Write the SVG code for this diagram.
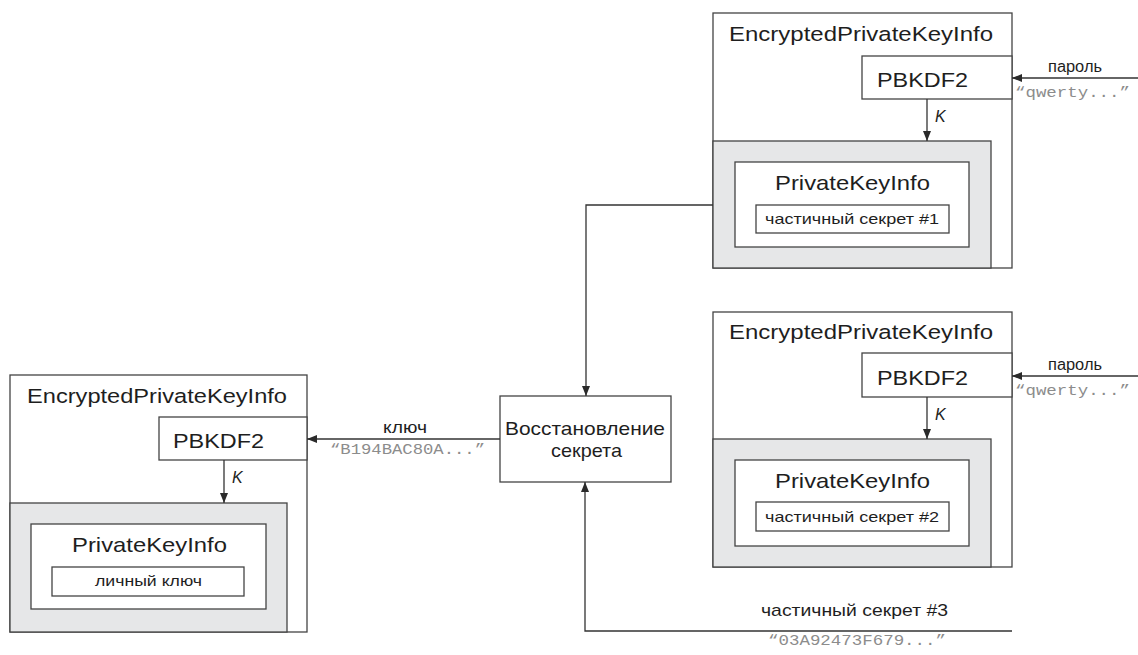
<svg xmlns="http://www.w3.org/2000/svg" width="1138" height="655" viewBox="0 0 1138 655">
<defs>
<marker id="ah" markerWidth="10" markerHeight="8" refX="10" refY="4" orient="auto" markerUnits="userSpaceOnUse">
<path d="M0,0 L10,4 L0,8 Z" fill="#2a2a2a"/>
</marker>
<style>
.box{fill:#ffffff;stroke:#444;stroke-width:1.3}
.gray{fill:#e6e7e8;stroke:#444;stroke-width:1.3}
.ln{fill:none;stroke:#333;stroke-width:1.3}
.t{font-family:"Liberation Sans",Arial,sans-serif;fill:#1e1e1e}
.big{font-size:20.5px}
.mid{font-size:21px}
.sm{font-size:15px}
.k{font-family:"Liberation Sans",Arial,sans-serif;font-size:16px;font-style:italic;fill:#222}
.mono{font-family:"Liberation Mono","Courier New",monospace;font-size:15px;fill:#8c8c8c}
</style>
</defs>

<g id="epki-top">
<rect class="box" x="713" y="13" width="299" height="255"/>
<text class="t big" x="729" y="41" textLength="264" lengthAdjust="spacingAndGlyphs">EncryptedPrivateKeyInfo</text>
<rect class="box" x="862" y="56" width="150" height="43"/>
<text class="t mid" x="877" y="87" textLength="91" lengthAdjust="spacingAndGlyphs">PBKDF2</text>
<rect class="gray" x="713" y="141" width="278" height="127"/>
<rect class="box" x="735" y="162" width="234" height="85"/>
<text class="t mid" x="775" y="190" textLength="155" lengthAdjust="spacingAndGlyphs">PrivateKeyInfo</text>
<rect class="box" x="756" y="205" width="193" height="28"/>
<text class="t sm" x="765" y="224" textLength="174" lengthAdjust="spacingAndGlyphs">частичный секрет #1</text>
<line class="ln" x1="927" y1="99" x2="927" y2="141" marker-end="url(#ah)"/>
<text class="k" x="935" y="122">K</text>
</g>

<g id="epki-mid">
<rect class="box" x="713" y="312" width="299" height="255"/>
<text class="t big" x="729" y="339" textLength="264" lengthAdjust="spacingAndGlyphs">EncryptedPrivateKeyInfo</text>
<rect class="box" x="862" y="353" width="150" height="44"/>
<text class="t mid" x="877" y="385" textLength="91" lengthAdjust="spacingAndGlyphs">PBKDF2</text>
<rect class="gray" x="713" y="439" width="278" height="128"/>
<rect class="box" x="735" y="460" width="234" height="86"/>
<text class="t mid" x="775" y="488" textLength="155" lengthAdjust="spacingAndGlyphs">PrivateKeyInfo</text>
<rect class="box" x="756" y="502" width="193" height="29"/>
<text class="t sm" x="765" y="522" textLength="174" lengthAdjust="spacingAndGlyphs">частичный секрет #2</text>
<line class="ln" x1="927" y1="397" x2="927" y2="439" marker-end="url(#ah)"/>
<text class="k" x="935" y="420">K</text>
</g>

<g id="epki-left">
<rect class="box" x="10" y="375" width="297" height="257"/>
<text class="t big" x="27" y="403" textLength="260" lengthAdjust="spacingAndGlyphs">EncryptedPrivateKeyInfo</text>
<rect class="box" x="159" y="417" width="148" height="43"/>
<text class="t mid" x="173" y="448" textLength="91" lengthAdjust="spacingAndGlyphs">PBKDF2</text>
<rect class="gray" x="10" y="503" width="277" height="129"/>
<rect class="box" x="31" y="524" width="235" height="85"/>
<text class="t mid" x="72" y="552" textLength="155" lengthAdjust="spacingAndGlyphs">PrivateKeyInfo</text>
<rect class="box" x="52" y="567" width="192" height="29"/>
<text class="t sm" x="95" y="586" textLength="107" lengthAdjust="spacingAndGlyphs">личный ключ</text>
<line class="ln" x1="224" y1="460" x2="224" y2="503" marker-end="url(#ah)"/>
<text class="k" x="232" y="483">K</text>
</g>

<g id="recovery">
<rect class="box" x="500" y="396" width="171" height="86"/>
<text class="t" font-size="19" x="505" y="435" textLength="160" lengthAdjust="spacingAndGlyphs">Восстановление</text>
<text class="t" font-size="19" x="551" y="457" textLength="71" lengthAdjust="spacingAndGlyphs">секрета</text>
</g>

<g id="connectors">
<polyline class="ln" points="713,205 586,205 586,396" marker-end="url(#ah)"/>
<polyline class="ln" points="1012,631 585,631 585,482" marker-end="url(#ah)"/>
<line class="ln" x1="500" y1="439" x2="307" y2="439" marker-end="url(#ah)"/>
<line class="ln" x1="1138" y1="78" x2="1012" y2="78" marker-end="url(#ah)"/>
<line class="ln" x1="1138" y1="376" x2="1012" y2="376" marker-end="url(#ah)"/>
<text class="t" font-size="16" x="1048" y="72" textLength="54" lengthAdjust="spacingAndGlyphs">пароль</text>
<text class="mono" x="1015" y="97" textLength="115" lengthAdjust="spacingAndGlyphs">“qwerty...”</text>
<text class="t" font-size="16" x="1048" y="370" textLength="54" lengthAdjust="spacingAndGlyphs">пароль</text>
<text class="mono" x="1015" y="395" textLength="115" lengthAdjust="spacingAndGlyphs">“qwerty...”</text>
<text class="t" font-size="16" x="383" y="433" textLength="44" lengthAdjust="spacingAndGlyphs">ключ</text>
<text class="mono" x="330" y="454" textLength="155" lengthAdjust="spacingAndGlyphs">“B194BAC80A...”</text>
<text class="t" font-size="17" x="761" y="616" textLength="187" lengthAdjust="spacingAndGlyphs">частичный секрет #3</text>
<text class="mono" x="768" y="645" textLength="178" lengthAdjust="spacingAndGlyphs">“03A92473F679...”</text>
</g>
</svg>
